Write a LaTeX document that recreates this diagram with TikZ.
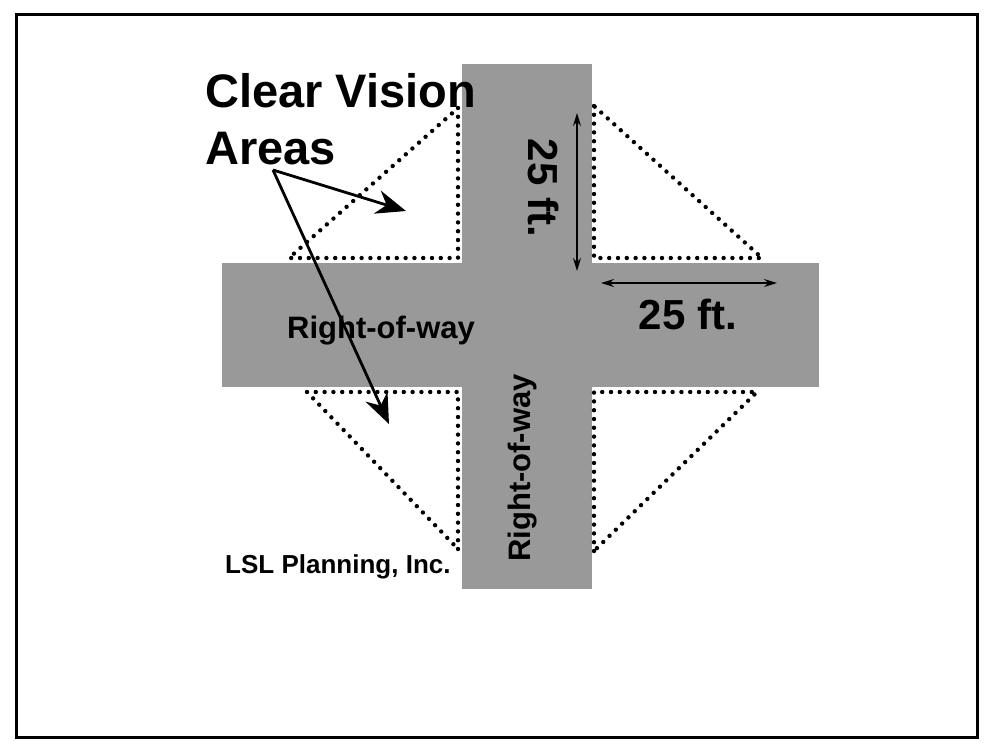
\documentclass[tikz,border=0pt]{standalone}
\usepackage{fontspec}
\setmainfont{Liberation Sans}
\usetikzlibrary{arrows.meta,positioning}

\begin{document}
\begin{tikzpicture}[x=1pt, y=-1pt,
        road/.style={fill=black!40, draw=none},
        sight/.style={line width=4.4pt, line cap=round, dash pattern=on 0pt off 8.8pt},
        callout/.style={line width=2.8pt, -{Stealth[length=30pt, width=24pt]}},
        dimline/.style={line width=1.4pt, {Stealth[length=13pt, width=8pt]}-{Stealth[length=13pt, width=8pt]}},
        bigtext/.style={font=\bfseries\fontsize{47}{57}\selectfont, inner sep=0pt},
        dimtext/.style={font=\bfseries\fontsize{42}{46}\selectfont, inner sep=0pt},
        rowtext/.style={font=\bfseries\fontsize{31}{34}\selectfont, inner sep=0pt}]
        \useasboundingbox (0,0) rectangle (990,750);
        \draw[line width=3pt] (16,14) rectangle (977,737);

        % roads
        \fill[road] (222,263) rectangle (819,387);
        \fill[road] (462,64) rectangle (592,589);

        % clear vision triangles
        \draw[sight] (458,108) -- (458,258) -- (289,258) -- cycle;
        \draw[sight] (594,106) -- (594,258) -- (762,258) -- cycle;
        \draw[sight] (458,549) -- (458,392) -- (307,392) -- cycle;
        \draw[sight] (594,551) -- (594,392) -- (757,392) -- cycle;

        % labels
        \node[rowtext] (rowh) at (381,331) {Right-of-way};
        \node[rowtext, rotate=90] (rowv) at (523,468) {Right-of-way};
        \node[dimtext, rotate=-90] (ftv) at (544,188) {25 ft.};
        \node[dimtext] (fth) at (688,314) {25 ft.};
        \node[bigtext, anchor=north west, align=left] (areas) at (205,73) {Clear Vision\\Areas};
        \node[font=\bfseries\fontsize{26}{30}\selectfont, inner sep=0pt, anchor=base west] (firm) at (225,573) {LSL Planning, Inc.};

        % dimensions
        \coordinate (vtop) at (577,113);
        \coordinate (vbot) at (577,271);
        \coordinate (hleft) at (601,283);
        \coordinate (hright) at (777,283);
        \draw[dimline] (vtop) -- (vbot);
        \draw[dimline] (hleft) -- (hright);

        % callouts
        \coordinate (src) at (273,170);
        \coordinate (upper) at (406,211);
        \coordinate (lower) at (389,424);
        \draw[callout] (src) -- (upper);
        \draw[callout] (src) -- (lower);
    \end{tikzpicture}
\end{document}
